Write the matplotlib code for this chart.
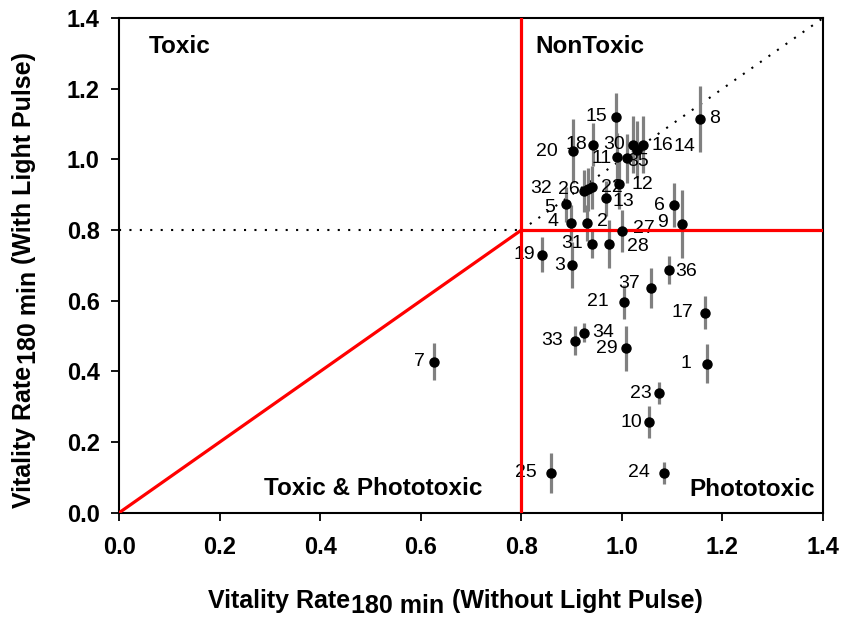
import matplotlib
matplotlib.use("Agg")
import matplotlib.pyplot as plt

plt.rcParams["font.family"] = ["Liberation Sans", "DejaVu Sans"]

# compound number, vitality without light, vitality with light, error (with light)
ids = [str(i) for i in range(1, 38)]
x_vals = [1.169, 0.931, 0.901, 0.899, 0.889, 1.104, 0.626, 1.155, 1.120, 1.054,
          0.990, 0.994, 0.968, 1.030, 0.988, 1.042, 1.165, 0.943, 0.841, 0.903,
          1.004, 0.941, 1.074, 1.084, 0.859, 0.933, 1.000, 0.974, 1.008, 1.022,
          0.941, 0.925, 0.907, 0.925, 1.010, 1.094, 1.058]
y_vals = [0.422, 0.820, 0.701, 0.820, 0.873, 0.870, 0.428, 1.115, 0.817, 0.256,
          1.006, 0.930, 0.890, 1.028, 1.121, 1.042, 0.566, 1.042, 0.730, 1.023,
          0.597, 0.921, 0.338, 0.113, 0.113, 0.915, 0.797, 0.761, 0.465, 1.042,
          0.761, 0.910, 0.487, 0.510, 1.003, 0.687, 0.637]
y_err = [0.056, 0.050, 0.066, 0.050, 0.050, 0.062, 0.052, 0.093, 0.097, 0.045,
         0.070, 0.070, 0.050, 0.080, 0.068, 0.080, 0.046, 0.062, 0.050, 0.090,
         0.048, 0.060, 0.031, 0.031, 0.056, 0.060, 0.060, 0.068, 0.063, 0.080,
         0.040, 0.060, 0.042, 0.027, 0.070, 0.041, 0.057]

# label offsets in points (layout only)
label_offsets = {
    "1": (-11, 0, "right"), "2": (7, 1, "left"), "3": (-5, 0, "right"),
    "4": (-9, 1, "right"), "5": (-8, -2, "right"), "6": (-6.5, 0, "right"),
    "7": (-6.5, 0, "right"), "8": (7, 0, "left"), "9": (-10, 1, "right"),
    "10": (-5, 0, "right"), "11": (-3.5, -1, "right"), "12": (9, 0, "left"),
    "13": (5, -2, "left"), "14": (26, 2, "left"), "15": (-6, 0, "right"),
    "16": (6, -1, "left"), "17": (-8.5, 0, "right"), "18": (-4, 0, "right"),
    "19": (-5, 0, "right"), "20": (-11, 0, "right"), "21": (-11, 0, "right"),
    "22": (6, 0, "left"), "23": (-5, 0, "right"), "24": (-10, 0, "right"),
    "25": (-10, 0, "right"), "26": (-6, 0, "right"), "27": (8, 2, "left"),
    "28": (13, -2, "left"), "29": (-6, 0, "right"), "30": (-6, 0, "right"),
    "31": (-6.5, 0, "right"), "32": (-23, 2, "right"), "33": (-8.5, 0, "right"),
    "34": (6, 0, "left"), "35": (0, -2, "left"), "36": (4, -1, "left"),
    "37": (-8, 3, "right"),
}

fig = plt.figure(figsize=(8.45, 6.23), dpi=100)
ax = fig.add_axes([0.141, 0.177, 0.833, 0.794])

ax.errorbar(x_vals, y_vals, yerr=y_err, fmt="none", ecolor="#808080",
            elinewidth=2.3, capsize=0, zorder=2)
ax.plot(x_vals, y_vals, "o", color="black", markersize=6.5, zorder=5)

for name, xv, yv in zip(ids, x_vals, y_vals):
    dx, dy, ha = label_offsets[name]
    ax.annotate(name, (xv, yv), xytext=(dx, dy), textcoords="offset points",
                ha=ha, va="center", fontsize=14, zorder=2.5)

# boundary lines
ax.plot([0.8, 0.8], [0, 1.4], color="red", lw=2.3, zorder=3)
ax.plot([0.8, 1.4], [0.8, 0.8], color="red", lw=2.3, zorder=3)
ax.plot([0, 0.8], [0, 0.8], color="red", lw=2.3, zorder=3)
ax.plot([0, 0.8], [0.8, 0.8], color="black", lw=1.5, ls=(0, (1, 4)), zorder=1)
ax.plot([0.8, 1.4], [0.8, 1.4], color="black", lw=1.5, ls=(0, (1, 4)), zorder=1)

region = dict(fontsize=17.5, fontweight="bold", va="center")
ax.text(0.058, 1.32, "Toxic", ha="left", **region)
ax.text(0.936, 1.32, "NonToxic", ha="center", **region)
ax.text(0.505, 0.068, "Toxic & Phototoxic", ha="center", **region)
ax.text(1.259, 0.066, "Phototoxic", ha="center", **region)

ax.set_xlim(0, 1.4)
ax.set_ylim(0, 1.4)
ticks = [0.0, 0.2, 0.4, 0.6, 0.8, 1.0, 1.2, 1.4]
ax.set_xticks(ticks)
ax.set_yticks(ticks)
ax.set_xticklabels([f"{t:.1f}" for t in ticks], fontsize=17, fontweight="bold")
ax.set_yticklabels([f"{t:.1f}" for t in ticks], fontsize=17, fontweight="bold")
ax.tick_params(direction="out", length=6, width=1.3)
ax.tick_params(axis="x", pad=11)
ax.tick_params(axis="y", pad=8)
for s in ax.spines.values():
    s.set_linewidth(1.5)

# x label with subscript
lab = dict(fontsize=18, fontweight="bold")
t1 = fig.text(0.246, 0.016, "Vitality Rate", ha="left", va="bottom", **lab)
t2 = ax.annotate("180 min", xy=(1, 0), xycoords=t1, xytext=(1, -3.5),
                 textcoords="offset points", ha="left", va="bottom", **lab)
ax.annotate(" (Without Light Pulse)", xy=(1, 0), xycoords=(t2, t1),
            ha="left", va="bottom", **lab)

# y label with subscript
u1 = fig.text(0.014, 0.185, "Vitality Rate", rotation=90, ha="left", va="bottom", **lab)
u2 = ax.annotate("180 min", xy=(1, 1), xycoords=u1, xytext=(3.5, 1),
                 textcoords="offset points", rotation=90, ha="right", va="bottom", **lab)
ax.annotate(" (With Light Pulse)", xy=(1, 1), xycoords=(u1, u2),
            rotation=90, ha="right", va="bottom", **lab)

fig.savefig("out.png", dpi=100)
